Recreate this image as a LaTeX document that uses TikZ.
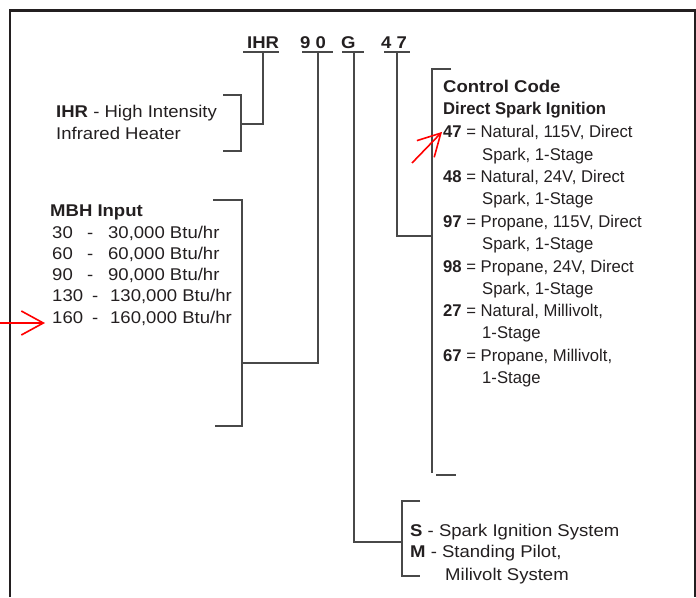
\documentclass[tikz,border=0pt]{standalone}
\usepackage{fontspec}
\setmainfont[FakeStretch=1.09]{Liberation Sans}
\newfontfamily\ccfont[FakeStretch=0.98]{Liberation Sans}
\usepackage{xcolor}
\usetikzlibrary{arrows.meta}
\definecolor{inkgray}{HTML}{231F20}
\definecolor{linegray}{HTML}{484848}
\definecolor{markred}{HTML}{FF0000}

\tikzset{
  txt/.style={inner sep=0pt, anchor=base west, text=inkgray, font=\fontsize{17}{21}\selectfont},
  bold/.style={txt, font=\bfseries\fontsize{17}{21}\selectfont},
  cctxt/.style={txt, font=\ccfont\fontsize{17}{21}\selectfont},
  ccbold/.style={txt, font=\ccfont\bfseries\fontsize{17}{21}\selectfont},
  wire/.style={draw=linegray, line width=1.5pt},
  frame/.style={draw=inkgray, line width=2.5pt},
  redmark/.style={draw=markred, line width=1.6pt, -{Straight Barb[length=22pt,width=24pt]}},
}

\begin{document}
\begin{tikzpicture}[x=1pt, y=-1pt]
\useasboundingbox (0,0) rectangle (696,597);

% outer frame
\draw[frame] (10,597) -- (10,10.5) -- (695,10.5) -- (695,597);

% model code
\node[bold] (cIHR) at (247,48) {IHR};
\node[bold] (cMBH) at (300,48) {9 0};
\node[bold] (cIgn) at (341,48) {G};
\node[bold] (cCtrl) at (381,48) {4 7};
\draw[wire] (243,52) -- (279,52);
\draw[wire] (302,52) -- (333,52);
\draw[wire] (342,52) -- (364,52);
\draw[wire] (384,52) -- (410,52);
\coordinate (uIHR) at (263,52);
\coordinate (uMBH) at (318,52);
\coordinate (uIgn) at (354,52);
\coordinate (uCtrl) at (397,52);

% brackets
\coordinate (bIHR) at (241,124);
\coordinate (bMBH) at (242,363);
\coordinate (bIgn) at (402,542);
\coordinate (bCtrl) at (432,236);
\draw[wire] (223,95) -| (241,151) -- (223,151);
\draw[wire] (213,200) -| (242,426) -- (215,426);
\draw[wire] (420,501) -| (402,576) -- (420,576);
\draw[wire] (451,69) -| (432,473);
\draw[wire] (436,475) -- (456,475);

% connectors
\draw[wire] (uIHR) |- (bIHR);
\draw[wire] (uMBH) |- (bMBH);
\draw[wire] (uIgn) |- (bIgn);
\draw[wire] (uCtrl) |- (bCtrl);

% heater type
\node[txt] (ihr1) at (56,117) {\textbf{IHR} - High Intensity};
\node[txt] (ihr2) at (56,139) {Infrared Heater};

% input
\node[bold] (mbh) at (50,216) {MBH Input};
\node[txt] (r30) at (52,238) {\makebox[35pt][l]{30}\makebox[21pt][l]{-}30,000 Btu/hr};
\node[txt] (r60) at (52,259.3) {\makebox[35pt][l]{60}\makebox[21pt][l]{-}60,000 Btu/hr};
\node[txt] (r90) at (52,280.5) {\makebox[35pt][l]{90}\makebox[21pt][l]{-}90,000 Btu/hr};
\node[txt] (r130) at (52,301.7) {\makebox[40pt][l]{130}\makebox[18pt][l]{-}130,000 Btu/hr};
\node[txt] (r160) at (52,323) {\makebox[40pt][l]{160}\makebox[18pt][l]{-}160,000 Btu/hr};

% control code
\node[bold] (cc) at (443,92) {Control Code};
\node[ccbold] (dsi) at (443,114) {Direct Spark Ignition};
\node[cctxt] (c47) at (443,137) {\textbf{47} = Natural, 115V, Direct};
\node[cctxt] (c47b) at (482,160) {Spark, 1-Stage};
\node[cctxt] (c48) at (443,182) {\textbf{48} = Natural, 24V, Direct};
\node[cctxt] (c48b) at (482,204.5) {Spark, 1-Stage};
\node[cctxt] (c97) at (443,227) {\textbf{97} = Propane, 115V, Direct};
\node[cctxt] (c97b) at (482,249.5) {Spark, 1-Stage};
\node[cctxt] (c98) at (443,272) {\textbf{98} = Propane, 24V, Direct};
\node[cctxt] (c98b) at (482,294) {Spark, 1-Stage};
\node[cctxt] (c27) at (443,316.5) {\textbf{27} = Natural, Millivolt,};
\node[cctxt] (c27b) at (482,338.5) {1-Stage};
\node[cctxt] (c67) at (443,361) {\textbf{67} = Propane, Millivolt,};
\node[cctxt] (c67b) at (482,383.5) {1-Stage};

% ignition
\node[txt] (igS) at (410,536) {\textbf{S} - Spark Ignition System};
\node[txt] (igM) at (410,557.5) {\textbf{M} - Standing Pilot,};
\node[txt] (igM2) at (445,580) {Milivolt System};

% red marks
\coordinate (m160) at (0,323);
\coordinate (m47) at (412,163);
\draw[redmark] (m160) -- ([xshift=-7pt]r160.base west);
\draw[redmark] (m47) -- ([xshift=-1pt]c47.west);
\end{tikzpicture}
\end{document}
